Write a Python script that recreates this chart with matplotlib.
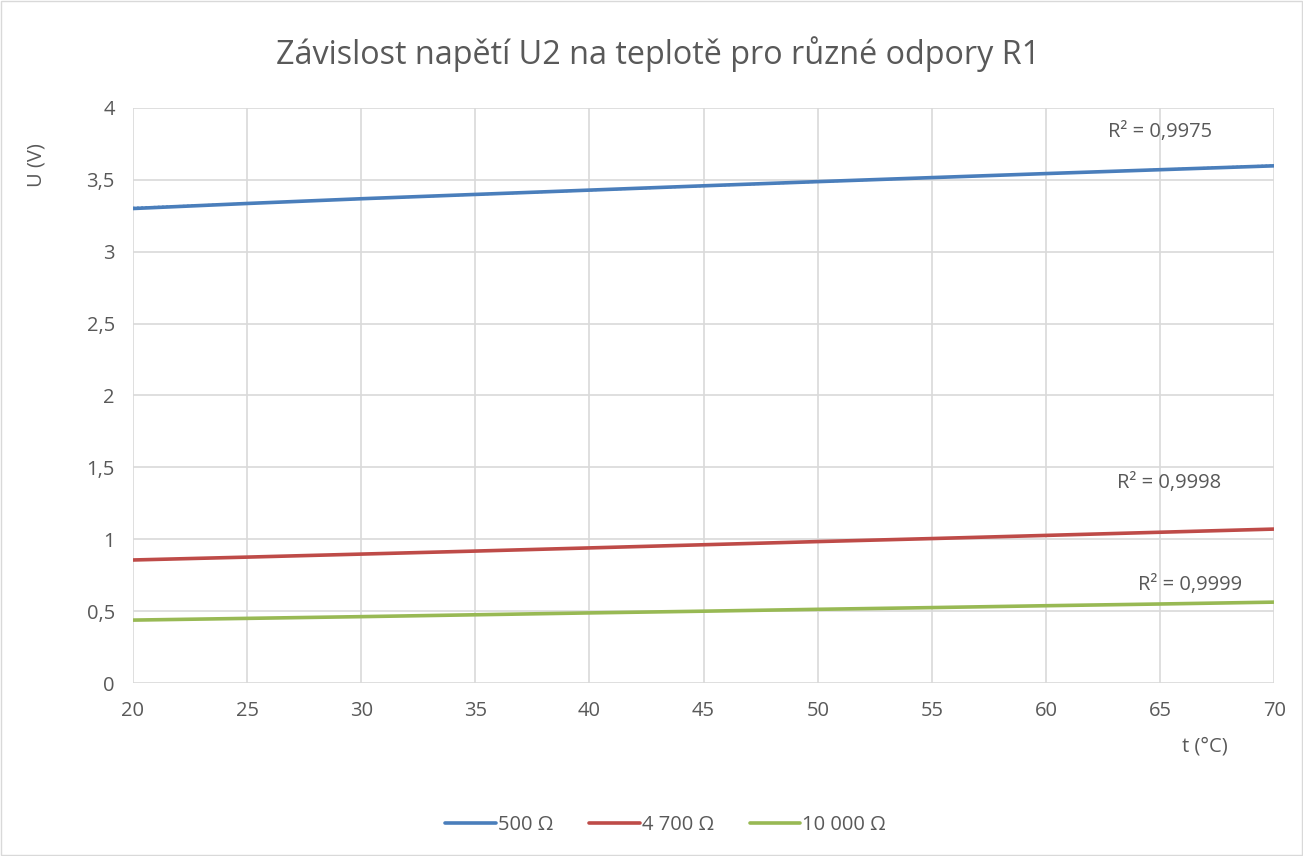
import numpy as np
import matplotlib.pyplot as plt
from matplotlib.ticker import FuncFormatter

plt.rcParams['font.family'] = ['Open Sans', 'DejaVu Sans']

# data
t = [20, 25, 30, 35, 40, 45, 50, 55, 60, 65, 70]
u_500 = [3.300, 3.335, 3.368, 3.398, 3.428, 3.458, 3.487, 3.515, 3.543, 3.570, 3.597]
u_4700 = [0.856, 0.876, 0.897, 0.918, 0.940, 0.962, 0.984, 1.005, 1.027, 1.049, 1.071]
u_10000 = [0.438, 0.450, 0.462, 0.475, 0.488, 0.500, 0.513, 0.525, 0.538, 0.550, 0.563]

names = ['500 Ω', '4 700 Ω', '10 000 Ω']
colors = ['#4a7ebb', '#be4b48', '#98b954']
r2_text = ['R² = 0,9975', 'R² = 0,9998', 'R² = 0,9999']
r2_pos = [(65.0, 3.83), (65.4, 1.39), (66.3, 0.68)]

fs = 14.5

fig = plt.figure(figsize=(13.03, 8.56), dpi=100)
ax = fig.add_axes([0.102, 0.202, 0.876, 0.672])

for y, name, c, txt, pos in zip([u_500, u_4700, u_10000], names, colors, r2_text, r2_pos):
    ax.plot(t, y, color=c, lw=2.6, label=name, solid_capstyle='round', zorder=3)
    k, q = np.polyfit(t, y, 1)
    xs = np.array([t[0], t[-1]])
    ax.plot(xs, k * xs + q, color=c, lw=1.2, ls=(0, (1, 1.5)), zorder=4)
    ax.text(pos[0], pos[1], txt, color='#595959', fontsize=fs, ha='center', va='center')

ax.set_xlim(20, 70)
ax.set_ylim(0, 4)
ax.set_xticks(range(20, 71, 5))
ax.set_yticks(np.arange(0, 4.01, 0.5))
ax.yaxis.set_major_formatter(FuncFormatter(lambda v, p: ('%g' % v).replace('.', ',')))
ax.grid(color='#d9d9d9', lw=1.2)
ax.set_axisbelow(True)
for s in ax.spines.values():
    s.set_visible(False)
ax.tick_params(length=0, colors='#595959', labelsize=fs)
ax.tick_params(axis='y', pad=13)
ax.tick_params(axis='x', pad=13)

fig.text(0.505, 0.937, 'Závislost napětí U2 na teplotě pro různé odpory R1',
         ha='center', va='center', fontsize=23.3, color='#595959')
fig.text(0.028, 0.807, 'U (V)', rotation=90, ha='center', va='center', fontsize=fs, color='#595959')
fig.text(0.925, 0.128, 't (°C)', ha='center', va='center', fontsize=fs, color='#595959')

fig.legend(loc='center', bbox_to_anchor=(0.511, 0.036), ncol=3, frameon=False,
           fontsize=fs, labelcolor='#595959', handlelength=2.5, handletextpad=0.1,
           columnspacing=1.8)

fig.patches.append(plt.Rectangle((0.001, 0.001), 0.998, 0.998, transform=fig.transFigure,
                                 fill=False, edgecolor='#d9d9d9', lw=1))

fig.savefig('out.png', dpi=100)
